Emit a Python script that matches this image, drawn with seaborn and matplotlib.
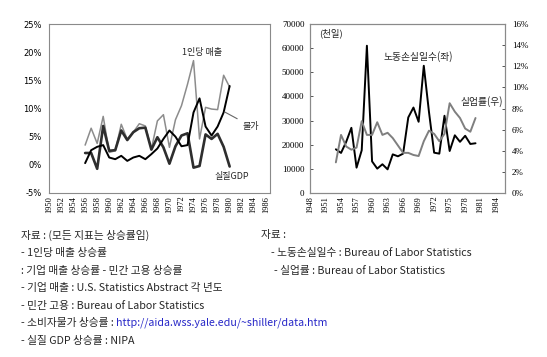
import matplotlib
matplotlib.use("Agg")
import matplotlib.pyplot as plt
import seaborn as sns
import pandas as pd

# left chart: 1956-1980 growth rates (%)
years_l = list(range(1956, 1981))
sales_pc = [3.5, 6.5, 3.8, 8.6, 2.2, 2.5, 7.2, 4.5, 5.8, 7.3, 6.9, 2.8, 7.8, 8.9, 3.1,
            8.0, 10.5, 14.3, 18.5, 4.6, 10.2, 9.9, 9.8, 15.9, 13.8]
inflation = [0.3, 2.6, 3.2, 3.5, 1.3, 1.0, 1.6, 0.7, 1.3, 1.6, 1.0, 1.9, 2.9, 4.6, 6.1,
             5.0, 3.3, 3.5, 9.3, 11.8, 6.8, 5.2, 6.8, 9.3, 14.0]
real_gdp = [2.1, 2.1, -0.7, 6.9, 2.5, 2.6, 6.1, 4.4, 5.8, 6.5, 6.6, 2.7, 4.9, 3.1, 0.2,
            3.3, 5.2, 5.6, -0.5, -0.2, 5.4, 4.6, 5.5, 3.2, -0.3]

# right chart: 1953-1980
years_r = list(range(1953, 1981))
idle_days = [18100, 16600, 21200, 27000, 10500, 17700, 61000, 13100, 10100, 11900,
             9800, 16000, 15200, 16300, 31300, 35400, 29500, 52700, 33600, 16700,
             16300, 32000, 17400, 23900, 21200, 23700, 20300, 20600]
unemp = [2.9, 5.5, 4.4, 4.1, 4.3, 6.8, 5.5, 5.5, 6.7, 5.5, 5.7, 5.2, 4.5, 3.8, 3.8,
         3.6, 3.5, 4.9, 5.9, 5.6, 4.9, 5.6, 8.5, 7.7, 7.1, 6.1, 5.8, 7.1]

notes_left = ["자료 : (모든 지표는 상승률임)",
              "- 1인당 매출 상승률",
              ": 기업 매출 상승률 - 민간 고용 상승률",
              "- 기업 매출 : U.S. Statistics Abstract 각 년도",
              "- 민간 고용 : Bureau of Labor Statistics",
              "- 소비자물가 상승률 : ",
              "- 실질 GDP 상승률 : NIPA"]
url = "http://aida.wss.yale.edu/~shiller/data.htm"
notes_right = ["자료 :",
               "- 노동손실일수 : Bureau of Labor Statistics",
               "- 실업률 : Bureau of Labor Statistics"]

sns.set_style("white")
plt.rcParams['font.family'] = ['Noto Sans CJK KR', 'DejaVu Sans']

fig = plt.figure(figsize=(5.47, 3.57), dpi=100)
W, H = 547, 357

def box(x0, y0, x1, y1):
    return [x0 / W, 1 - y1 / H, (x1 - x0) / W, (y1 - y0) / H]

def px(x, y):
    return (x / W, 1 - y / H)

frame = '#8a8a8a'

# ---------- left chart
ax1 = fig.add_axes(box(49, 24, 270, 193))
dl = pd.DataFrame({"year": years_l, "sales": sales_pc, "cpi": inflation, "gdp": real_gdp})
sns.lineplot(data=dl, x="year", y="sales", color='#8c8c8c', lw=1.1, ax=ax1)
sns.lineplot(data=dl, x="year", y="gdp", color='#2e2e2e', lw=1.9, ax=ax1)
sns.lineplot(data=dl, x="year", y="cpi", color='black', lw=1.4, ax=ax1)
ax1.set_xlim(1950, 1986.7)
ax1.set_ylim(-5, 25)
ax1.set_yticks(range(-5, 26, 5))
ax1.set_yticklabels([f"{v}%" for v in range(-5, 26, 5)], family='DejaVu Sans', fontsize=6)
ax1.set_xticks(range(1950, 1987, 2))
ax1.set_xticklabels([str(y) for y in range(1950, 1987, 2)], rotation=90,
                    family='Liberation Serif', fontsize=6)
ax1.set_xticks(range(1950, 1987), minor=True)
ax1.tick_params(axis='both', which='both', direction='in', length=2.5, width=0.7,
                colors='#555555', labelcolor='black', pad=2)
ax1.tick_params(axis='y', pad=5)
ax1.set_xlabel("")
ax1.set_ylabel("")
for s in ax1.spines.values():
    s.set_color(frame)
    s.set_linewidth(0.8)
fig.text(*px(182, 53), "1인당 매출", fontsize=6.5, va='center')
ax1.annotate("물가", xy=(1978.8, 9.6), xytext=(1982.2, 6.4), fontsize=6.5,
             arrowprops=dict(arrowstyle='-', color='#666666', lw=0.8))
ax1.text(1977.5, -2.6, "실질GDP", fontsize=6.5)

# ---------- right chart
ax2 = fig.add_axes(box(310, 24, 505, 193))
dr = pd.DataFrame({"year": years_r, "idle": idle_days, "unemp": unemp})
sns.lineplot(data=dr, x="year", y="idle", color='black', lw=1.4, ax=ax2)
ax2.set_xlim(1948, 1985.7)
ax2.set_ylim(0, 70000)
ax2.set_yticks(range(0, 70001, 10000))
ax2.set_yticklabels([str(v) for v in range(0, 70001, 10000)], family='Liberation Serif', fontsize=6.5)
ax2.set_xticks(range(1948, 1986, 3))
ax2.set_xticklabels([str(y) for y in range(1948, 1986, 3)], rotation=90,
                    family='Liberation Serif', fontsize=6)
ax2.set_xticks(range(1948, 1986), minor=True)
ax2.tick_params(axis='both', which='both', direction='in', length=2.5, width=0.7,
                colors='#555555', labelcolor='black', pad=2)
ax2.tick_params(axis='y', pad=4)
ax2.set_xlabel("")
ax2.set_ylabel("")
ax3 = ax2.twinx()
sns.lineplot(data=dr, x="year", y="unemp", color='#7f7f7f', lw=1.4, ax=ax3)
ax3.set_ylim(0, 16)
ax3.set_yticks(range(0, 17, 2))
ax3.set_yticklabels([f"{v}%" for v in range(0, 17, 2)], family='Liberation Serif', fontsize=6.5)
ax3.tick_params(axis='y', direction='in', length=2.5, width=0.7, colors='#555555',
                labelcolor='black', pad=5)
ax3.set_ylabel("")
ax3.set_xlim(1948, 1985.7)
for a in (ax2, ax3):
    for s in a.spines.values():
        s.set_color(frame)
        s.set_linewidth(0.8)
fig.text(*px(319, 33), "(천일)", fontsize=6.8, va='center')
fig.text(*px(383, 57), "노동손실일수(좌)", fontsize=7, va='center')
fig.text(*px(460, 102), "실업률(우)", fontsize=7, va='center')

# ---------- notes
ys = [235, 253, 271, 288, 306, 323, 341]
for i, line in enumerate(notes_left):
    t = fig.text(*px(21, ys[i]), line, fontsize=7.7, va='center')
    if i == 5:
        fig.add_artist(plt.Annotation(url, xy=(1, 0.5), xycoords=t, va='center',
                                      fontsize=7.7, color='#2828c8', annotation_clip=False))
xs_r = [261, 271, 274]
for i, line in enumerate(notes_right):
    fig.text(*px(xs_r[i], ys[i]), line, fontsize=7.7, va='center')

fig.savefig("out.png", dpi=100)
